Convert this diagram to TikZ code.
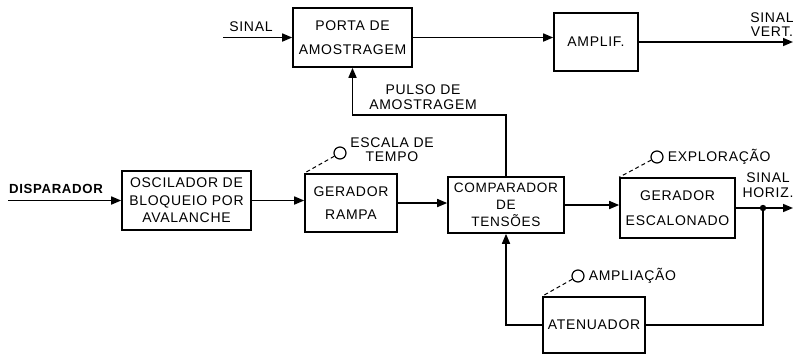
\documentclass[tikz,border=0pt]{standalone}
\usepackage{fontspec}
\setmainfont[LetterSpace=5]{Liberation Sans}
\usetikzlibrary{arrows.meta}
\begin{document}
\begin{tikzpicture}[x=0.5pt,y=-0.5pt,line width=0.8pt,
    font=\fontsize{7}{8.75}\selectfont,
    bloco/.style={draw,align=center,inner sep=1pt},
    seta/.style={-{Triangle[length=5pt,width=4pt]}},
    botao/.style={draw,circle,minimum size=6pt,inner sep=0pt,line width=0.6pt},
    tracejado/.style={line width=0.5pt,dash pattern=on 2pt off 1.5pt}]
  \useasboundingbox (0,0) rectangle (793,354);
  % blocos
  \node[bloco,minimum width=59.5pt,minimum height=29.5pt] (porta) at (352.5,37.5) {PORTA DE\\[3pt]AMOSTRAGEM};
  \node[bloco,minimum width=42pt,minimum height=29pt] (amplif) at (596,42) {AMPLIF.};
  \node[bloco,minimum width=64.5pt,minimum height=29.5pt] (osc) at (186.5,200.5) {OSCILADOR DE\\BLOQUEIO POR\\AVALANCHE};
  \node[bloco,minimum width=46pt,minimum height=29pt] (rampa) at (351,203) {GERADOR\\[3pt]RAMPA};
  \node[bloco,minimum width=58pt,minimum height=28pt,font=\fontsize{6.8}{8.5}\selectfont] (comp) at (506,205) {COMPARADOR\\DE\\TENSÕES};
  \node[bloco,minimum width=57.5pt,minimum height=30pt] (escal) at (677.5,208) {GERADOR\\[4pt]ESCALONADO};
  \node[bloco,minimum width=51pt,minimum height=28pt] (aten) at (594,325) {ATENUADOR};
  % entradas e saidas
  \coordinate (sinal) at (223,37.5);
  \coordinate (disp) at (8,200.5);
  \coordinate (vert) at (793,42);
  \coordinate (horiz) at (793,208);
  \node (tsinal) at (251,27) {SINAL};
  \node (tdisp) at (56,189) {\fontsize{6.6}{8}\selectfont\bfseries DISPARADOR};
  \node[align=center,font=\fontsize{7}{7}\selectfont] (tvert) at (772,25) {SINAL\\VERT.};
  \node[align=center,font=\fontsize{7}{7.5}\selectfont] (thoriz) at (768,185) {SINAL\\HORIZ.};
  \node[align=center,font=\fontsize{7}{7.5}\selectfont] (tpulso) at (423,97) {PULSO DE\\AMOSTRAGEM};
  % ligacoes
  \draw[seta] (sinal) -- (porta.west);
  \draw[seta] (porta.east) -- (amplif.west |- porta.east);
  \draw[seta] (amplif.east) -- (vert);
  \draw[seta] (disp) -- (osc.west);
  \draw[seta] (osc.east) -- (rampa.west |- osc.east);
  \draw[seta] (rampa.east) -- (comp.west |- rampa.east);
  \draw[seta] (comp.east) -- (escal.west |- comp.east);
  \draw[seta] (escal.east) -- (horiz);
  \draw[seta] (comp.north) -- ++(0,-61) -| (porta.south);
  \fill (763,208) coordinate (no) circle (1.6pt);
  \draw (no) |- (aten.east);
  \draw[seta] (aten.west) -| (comp.south);
  % controles
  \node[botao] (kt) at (340,153) {};
  \node[align=center,font=\fontsize{7}{7}\selectfont] (ttempo) at (392,150) {ESCALA DE\\TEMPO};
  \draw[tracejado] (kt) -- (rampa.north west);
  \node[botao] (ke) at (657,157) {};
  \node[anchor=west,inner sep=0pt] (texpl) at (667,157) {EXPLORAÇÃO};
  \draw[tracejado] (ke) -- (escal.north west);
  \node[botao] (ka) at (578,276) {};
  \node[anchor=west,inner sep=0pt] (tampl) at (588,276) {AMPLIAÇÃO};
  \draw[tracejado] (ka) -- (aten.north west);
\end{tikzpicture}
\end{document}
